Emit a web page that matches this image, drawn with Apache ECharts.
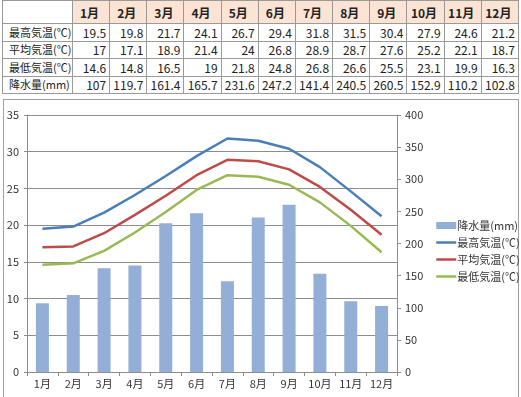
<!DOCTYPE html>
<html lang="ja">
  <head>
    <meta charset="UTF-8" />
    <title>月別気温と降水量</title>
    <script src="https://cdn.jsdelivr.net/npm/echarts@6/dist/echarts.min.js"></script>
    <style>
      html, body {
        margin: 0;
        padding: 0;
        background: #fff;
        font-family: 'Noto Sans CJK JP', sans-serif;
      }
      .page {
        position: relative;
        width: 521px;
        height: 397px;
        overflow: hidden;
      }
      /* 上の表 */
      .data_table {
        position: absolute;
        left: 2px;
        top: 0;
        width: 517px;
        border-collapse: collapse;
        table-layout: fixed;
        color: #222;
      }
      .data_table td, .data_table th {
        border: 1px solid #9a9a9a;
        padding: 0 3px 0 0;
        font-size: 12px;
        text-align: right;
        line-height: 15px;
        white-space: nowrap;
      }
      .data_table th {
        height: 22px;
        background: #fbe4d3;
        font-weight: 700;
        text-align: center;
        font-size: 12px;
      }
      .data_table th.blank {
        background: #fff;
      }
      .data_table td {
        height: 16.5px;
      }
      .data_table td.row_name {
        text-align: left;
        padding-left: 6px;
        font-size: 11px;
      }
      .chart_box {
        position: absolute;
        left: 3px;
        top: 99px;
        width: 514px;
        height: 310px;
        border: 1px solid #a0a0a0;
      }
      #weatherChart {
        position: absolute;
        left: 0;
        top: 0;
        width: 521px;
        height: 397px;
      }
    </style>
  </head>
  <body>
    <div class="page">
      <table class="data_table" id="dataTable"></table>
      <div class="chart_box"></div>
      <div id="weatherChart"></div>
    </div>
    <script>
      var months = ['1月', '2月', '3月', '4月', '5月', '6月', '7月', '8月', '9月', '10月', '11月', '12月'];
      var tempHigh = [19.5, 19.8, 21.7, 24.1, 26.7, 29.4, 31.8, 31.5, 30.4, 27.9, 24.6, 21.2];
      var tempAvg = [17, 17.1, 18.9, 21.4, 24, 26.8, 28.9, 28.7, 27.6, 25.2, 22.1, 18.7];
      var tempLow = [14.6, 14.8, 16.5, 19, 21.8, 24.8, 26.8, 26.6, 25.5, 23.1, 19.9, 16.3];
      var rainfall = [107, 119.7, 161.4, 165.7, 231.6, 247.2, 141.4, 240.5, 260.5, 152.9, 110.2, 102.8];

      var rowNames = ['最高気温(℃)', '平均気温(℃)', '最低気温(℃)', '降水量(mm)'];
      var lineColor = ['#4a7ebb', '#be4b48', '#98b954'];
      var barColor = '#93afd7';

      makeTable();
      weatherChart();

      function makeTable() {
        var rows = [tempHigh, tempAvg, tempLow, rainfall];
        var html = '<colgroup><col style="width:70px" />';
        for (var i = 0; i < months.length; i++) html += '<col />';
        html += '</colgroup><tr><th class="blank"></th>';
        for (var i = 0; i < months.length; i++) html += '<th>' + months[i] + '</th>';
        html += '</tr>';
        for (var r = 0; r < rows.length; r++) {
          html += '<tr><td class="row_name">' + rowNames[r] + '</td>';
          for (var c = 0; c < rows[r].length; c++) html += '<td>' + rows[r][c] + '</td>';
          html += '</tr>';
        }
        document.getElementById('dataTable').innerHTML = html;
      }

      function weatherChart() {
        var chart = echarts.init(document.getElementById('weatherChart'));
        var textColor = '#333';
        var font = "'Noto Sans CJK JP', sans-serif";

        var lineSeries = function (name, data, color) {
          return {
            name: name,
            type: 'line',
            yAxisIndex: 0,
            symbol: 'none',
            lineStyle: { width: 2.5, color: color },
            itemStyle: { color: color },
            data: data
          };
        };
        // 범례의 동그라미 숨김 (선만 표시)
        var lineLegend = function (name) {
          return { name: name, itemStyle: { opacity: 0 }, lineStyle: { width: 2.5 } };
        };

        var chartOption = {
          animation: false,
          grid: {
            left: 27,
            right: 124,
            top: 115,
            bottom: 25
          },
          legend: {
            orient: 'vertical',
            left: 430,
            top: 215,
            itemGap: 6,
            itemWidth: 20,
            itemHeight: 7,
            selectedMode: false,
            textStyle: { color: textColor, fontSize: 11, fontFamily: font, padding: [0, 0, 0, -4] },
            data: [
              { name: '降水量(mm)', icon: 'rect' },
              lineLegend('最高気温(℃)'),
              lineLegend('平均気温(℃)'),
              lineLegend('最低気温(℃)')
            ]
          },
          xAxis: {
            type: 'category',
            data: months,
            axisLine: { lineStyle: { color: '#8c8c8c' } },
            axisTick: { show: true, length: 4, lineStyle: { color: '#8c8c8c' } },
            axisLabel: { color: textColor, fontSize: 11, fontFamily: font, margin: 6 }
          },
          yAxis: [
            {
              type: 'value',
              min: 0,
              max: 35,
              interval: 5,
              axisLine: { show: true, lineStyle: { color: '#8c8c8c' } },
              axisTick: { show: true, length: 3, lineStyle: { color: '#8c8c8c' } },
              axisLabel: { color: textColor, fontSize: 11, fontFamily: font, margin: 8 },
              splitLine: { lineStyle: { color: '#8c8c8c' } }
            },
            {
              type: 'value',
              min: 0,
              max: 400,
              interval: 50,
              position: 'right',
              axisLine: { show: true, lineStyle: { color: '#8c8c8c' } },
              axisTick: { show: true, length: 4, lineStyle: { color: '#8c8c8c' } },
              axisLabel: { color: textColor, fontSize: 11, fontFamily: font, margin: 8 },
              splitLine: { show: false }
            }
          ],
          series: [
            {
              name: '降水量(mm)',
              type: 'bar',
              yAxisIndex: 1,
              barWidth: 13,
              itemStyle: { color: barColor },
              data: rainfall
            },
            lineSeries('最高気温(℃)', tempHigh, lineColor[0]),
            lineSeries('平均気温(℃)', tempAvg, lineColor[1]),
            lineSeries('最低気温(℃)', tempLow, lineColor[2])
          ]
        };

        chart.setOption(chartOption);
      }
    </script>
  </body>
</html>
